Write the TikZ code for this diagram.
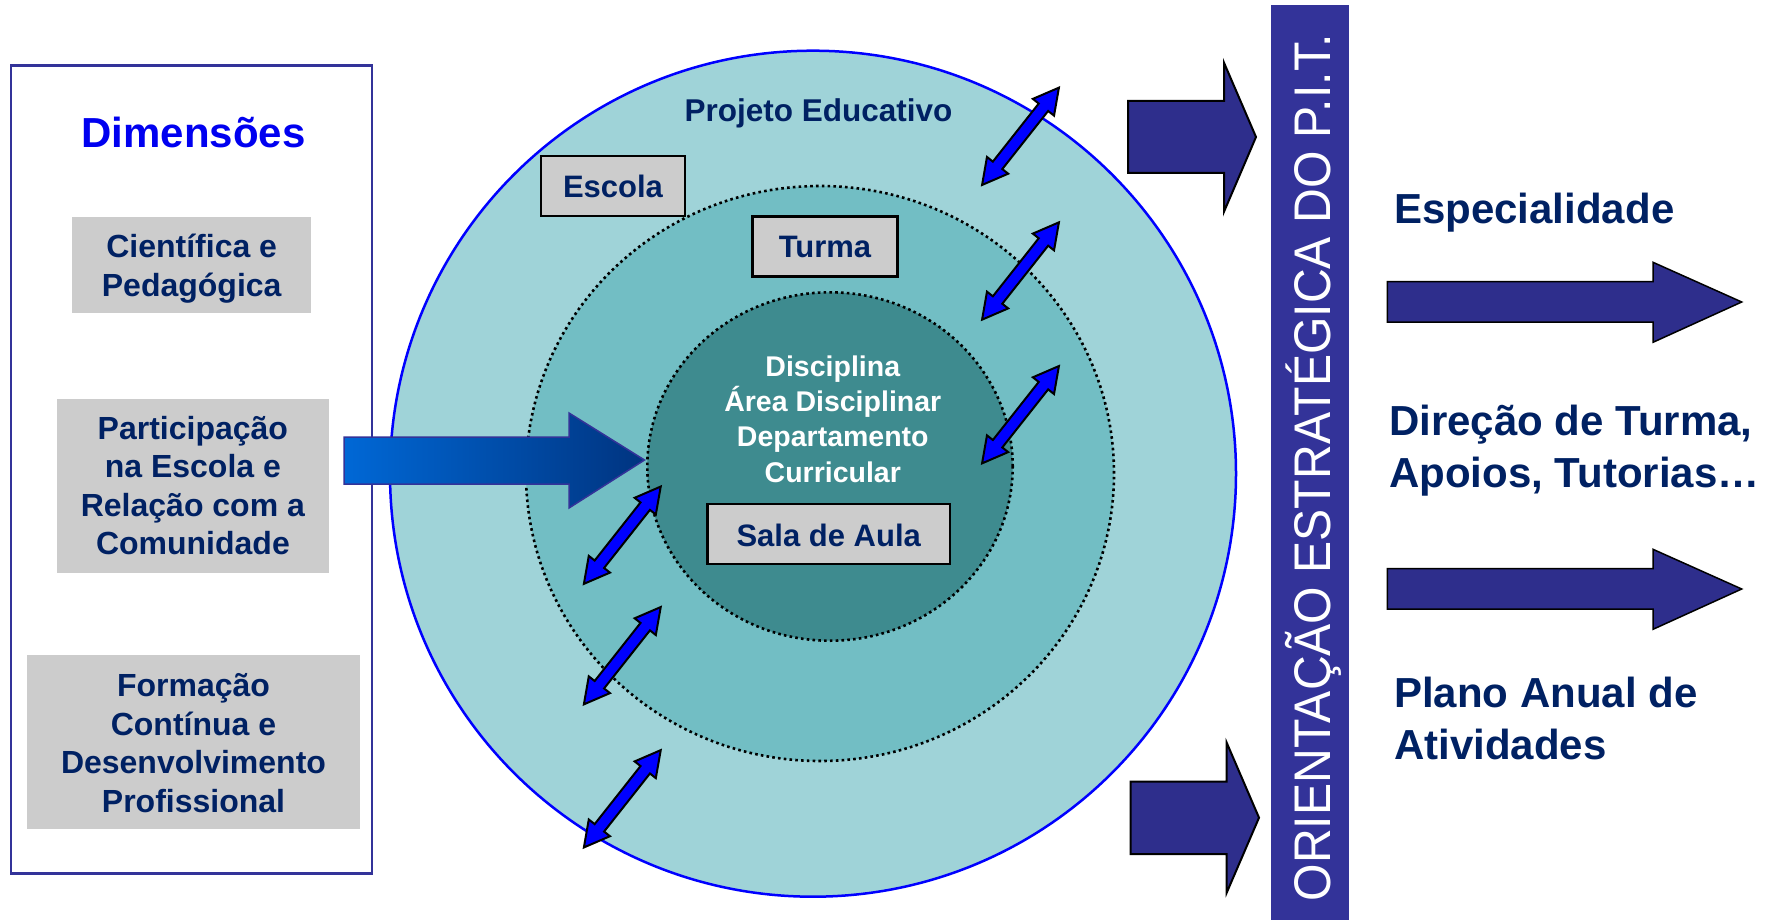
\documentclass[tikz,border=0pt]{standalone}
\usepackage{fontspec}
\usepackage{graphicx}
\setmainfont{Liberation Sans}
\usetikzlibrary{shapes.geometric}
\definecolor{ringA}{RGB}{159,211,216}
\definecolor{ringB}{RGB}{114,190,196}
\definecolor{ringC}{RGB}{62,139,143}
\definecolor{boxgrey}{RGB}{204,204,204}
\definecolor{navy}{RGB}{0,33,99}
\definecolor{dimblue}{RGB}{0,0,240}
\definecolor{frame}{RGB}{51,51,153}
\definecolor{darkarrow}{RGB}{46,46,140}
\definecolor{barcol}{RGB}{51,51,153}
\definecolor{gradL}{RGB}{0,104,214}
\definecolor{gradR}{RGB}{0,52,128}
\definecolor{dblblue}{RGB}{0,0,255}
\tikzset{
  greybox/.style={fill=boxgrey, inner sep=0pt, align=center, text=navy,
    font=\fontsize{32}{38.5}\selectfont\bfseries},
  labbox/.style={fill=boxgrey, draw=black, line width=2.5pt, inner sep=0pt, text=navy,
    font=\fontsize{31}{37}\selectfont\bfseries},
  ring/.style={ellipse, inner sep=0pt},
  dotring/.style={draw=black, line width=2.6pt, dash pattern=on 2.6pt off 3.2pt},
  fatarrow/.style={fill=darkarrow, draw=black, line width=2pt, line join=miter},
  dblarrow/.style={fill=dblblue, draw=black, line width=2pt, line join=miter},
  righttext/.style={text=navy, inner sep=0pt, align=left,
    font=\fontsize{42}{51.5}\selectfont\bfseries},
  dbl/.pic={\path[dblarrow] (-62,0) -- (-37,13.5) -- (-37,6) -- (37,6) -- (37,13.5)
    -- (62,0) -- (37,-13.5) -- (37,-6) -- (-37,-6) -- (-37,-13.5) -- cycle;}
}
\begin{document}
\begin{tikzpicture}[x=1pt,y=-1pt]
\useasboundingbox (0,0) rectangle (1774,920);

% left frame and dimensions
\node[draw=frame, line width=2.5pt, minimum width=361pt, minimum height=808pt, inner sep=0pt] (frame) at (191.7,469.5) {};
\node[text=dimblue, inner sep=0pt, font=\fontsize{42}{50}\selectfont\bfseries] (dim) at (193.5,132.4) {Dimensões};
\node[fill=boxgrey, minimum width=238.6pt, minimum height=96.4pt, inner sep=0pt] (b1) at (191.7,265.2) {};
\node[greybox, fill=none] (b1t) at (191.7,268.5) {Científica e\\Pedagógica};
\node[greybox, minimum width=272.6pt, minimum height=174.5pt] (b2) at (192.9,485.8) {Participação\\na Escola e\\Relação com a\\Comunidade};
\node[greybox, minimum width=333pt, minimum height=174.3pt] (b3) at (193.5,742.2) {};
\node[greybox, fill=none] (b3t) at (193.5,743.3) {Formação\\Contínua e\\Desenvolvimento\\Profissional};

% concentric rings
\node[ring, fill=ringA, draw=blue, line width=2.5pt, minimum width=846pt, minimum height=846pt] (outer) at (813,473.7) {};
\node[ring, fill=ringB, dotring, minimum width=588pt, minimum height=575pt] (middle) at (820,473.5) {};
\node[ring, fill=ringC, dotring, minimum width=365.4pt, minimum height=348.4pt] (inner) at (830,466.5) {};

\node[text=navy, inner sep=0pt, anchor=base, font=\fontsize{31.5}{36}\selectfont\bfseries] (proj) at (818.5,121.7) {Projeto Educativo};
\node[labbox, minimum width=144pt, minimum height=60pt] (escola) at (613,186) {Escola};
\node[labbox, minimum width=144.6pt, minimum height=60pt] (turma) at (825,246.7) {Turma};
\node[text=white, inner sep=0pt, align=center, font=\fontsize{28.5}{35.3}\selectfont\bfseries] (disc) at (832.8,419) {Disciplina\\Área Disciplinar\\Departamento\\Curricular};
\node[labbox, minimum width=242.7pt, minimum height=60.3pt] (sala) at (828.7,533.9) {};
\node[text=navy, inner sep=0pt, font=\fontsize{31}{37}\selectfont\bfseries] (salat) at (828.7,535) {Sala de Aula};

% double arrows
\pic[rotate=51.7] (d1) at (1020.5,136.3) {dbl};
\pic[rotate=51.7] (d2) at (1020.5,271) {dbl};
\pic[rotate=51.7] (d3) at (1020.5,414.7) {dbl};
\pic[rotate=51.7] (d4) at (622.3,535.2) {dbl};
\pic[rotate=51.7] (d5) at (622.3,655.7) {dbl};
\pic[rotate=51.7] (d6) at (622.3,798.8) {dbl};

% gradient arrow into the rings
\shadedraw[left color=gradL, right color=gradR, draw=frame, line width=1.5pt, line join=miter]
  (344,437) -- (569,437) -- (569,413) -- (644.5,460) -- (569,508) -- (569,484) -- (344,484) -- cycle;

% fat arrows to the bar
\path[fatarrow] (1128,101) -- (1224,101) -- (1224,62.7) -- (1256,137) -- (1224,211.7) -- (1224,173) -- (1128,173) -- cycle;
\path[fatarrow] (1130.7,781.7) -- (1226.7,781.7) -- (1226.7,742.7) -- (1259,817.7) -- (1226.7,892.7) -- (1226.7,854) -- (1130.7,854) -- cycle;

% vertical bar
\node[fill=barcol, minimum width=78pt, minimum height=915pt, inner sep=0pt, anchor=north west] (bar) at (1271,5) {};
\node[text=white, inner sep=0pt, rotate=90, anchor=base, font=\fontsize{51.5}{60}\selectfont] (bartext) at (1330.5,468)
  {\scalebox{0.935}[1]{ORIENTAÇÃO ESTRATÉGICA DO P.I.T.}};

% right side
\node[righttext, anchor=base west] (esp) at (1394,223) {Especialidade};
\path[fatarrow, line width=1.5pt] (1387.3,281.7) -- (1653,281.7) -- (1653,262.3) -- (1741.7,302) -- (1653,342.3) -- (1653,322) -- (1387.3,322) -- cycle;
\node[righttext, anchor=west] (dir) at (1389,450.5) {Direção de Turma,\\Apoios, Tutorias…};
\path[fatarrow, line width=1.5pt] (1387.3,568.7) -- (1653,568.7) -- (1653,549.3) -- (1741.7,589) -- (1653,629.3) -- (1653,609) -- (1387.3,609) -- cycle;
\node[righttext, anchor=west] (plano) at (1394,718.3) {Plano Anual de\\Atividades};
\end{tikzpicture}
\end{document}
